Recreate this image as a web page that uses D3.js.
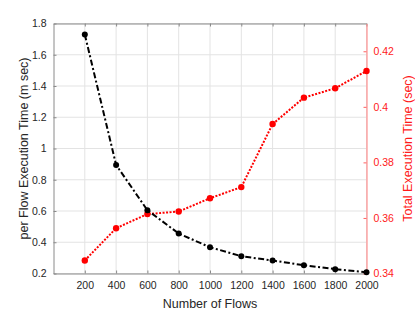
<!DOCTYPE html>
<html>
<head>
<meta charset="utf-8">
<script src="https://cdn.jsdelivr.net/npm/d3@7"></script>
<style>
  body { margin: 0; background: #fff; }
  text { font-family: Helvetica, Arial, "Liberation Sans", sans-serif; }
</style>
</head>
<body>
<div id="chart"></div>
<script>
const flows = [200, 400, 600, 800, 1000, 1200, 1400, 1600, 1800, 2000]
const perFlowTime = [1.73, 0.895, 0.605, 0.456, 0.368, 0.311, 0.283, 0.253, 0.228, 0.208]
const totalTime = [0.3447, 0.3563, 0.3614, 0.3623, 0.3671, 0.3711, 0.3938, 0.4033, 0.4067, 0.4129]
const leftTicks = [0.2, 0.4, 0.6, 0.8, 1, 1.2, 1.4, 1.6, 1.8]
const rightTicks = [0.34, 0.36, 0.38, 0.4, 0.42]

const W = 415, H = 312
const margin = { top: 23.5, left: 53.5, right: 48.5, bottom: 38.5 }
const width = W - margin.left - margin.right
const height = H - margin.top - margin.bottom

const canvas = d3.select('#chart').append('svg')
  .attr('width', W).attr('height', H)

const svg = canvas.append('g')
  .attr('transform', `translate(${margin.left},${margin.top})`)

const x = d3.scaleLinear().domain([0, 2000]).range([0, width])
const yL = d3.scaleLinear().domain([0.2, 1.8]).range([height, 0])
const yR = d3.scaleLinear().domain([0.34, 0.43]).range([height, 0])

const fmt = d => String(+d.toFixed(2))

// grid
svg.append('g').selectAll('line').data(flows).enter().append('line')
  .attr('x1', d => x(d)).attr('x2', d => x(d))
  .attr('y1', 0).attr('y2', height)
  .attr('stroke', '#e3e3e3').attr('stroke-width', 1)
svg.append('g').selectAll('line').data(leftTicks).enter().append('line')
  .attr('x1', 0).attr('x2', width)
  .attr('y1', d => yL(d)).attr('y2', d => yL(d))
  .attr('stroke', '#e3e3e3').attr('stroke-width', 1)

// axes
const xAxis = svg.append('g')
  .attr('transform', `translate(0,${height})`)
  .call(d3.axisBottom(x).tickValues(flows).tickFormat(d3.format('d'))
    .tickSizeInner(-3).tickSizeOuter(0).tickPadding(8))
const xTop = svg.append('g')
  .call(d3.axisTop(x).tickValues(flows).tickSizeInner(-3).tickSizeOuter(0).tickFormat(''))
const yAxisL = svg.append('g')
  .call(d3.axisLeft(yL).tickValues(leftTicks).tickFormat(fmt).tickSizeInner(-3).tickSizeOuter(0).tickPadding(7))
const yAxisR = svg.append('g')
  .attr('transform', `translate(${width},0)`)
  .call(d3.axisRight(yR).tickValues(rightTicks).tickFormat(fmt).tickSizeInner(-3).tickSizeOuter(0).tickPadding(7))

for (const ax of [xAxis, xTop, yAxisL]) {
  ax.select('.domain').attr('stroke', '#8a8a8a').attr('stroke-width', 1)
  ax.selectAll('.tick line').attr('stroke', '#8a8a8a')
  ax.selectAll('.tick text').attr('fill', '#262626').attr('font-size', 10.5)
}
yAxisR.select('.domain').attr('stroke', '#ff9090').attr('stroke-width', 1.2)
yAxisR.selectAll('.tick line').attr('stroke', '#ff6060')
yAxisR.selectAll('.tick text').attr('fill', '#ff1a1a').attr('font-size', 10.5)

// lines
const lineL = d3.line().x((d, i) => x(flows[i])).y(d => yL(d))
const lineR = d3.line().x((d, i) => x(flows[i])).y(d => yR(d))

svg.append('path').datum(totalTime)
  .attr('d', lineR).attr('fill', 'none')
  .attr('stroke', '#ff0000').attr('stroke-width', 2)
  .attr('stroke-dasharray', '2,1.5')
svg.append('g').selectAll('circle').data(totalTime).enter().append('circle')
  .attr('cx', (d, i) => x(flows[i])).attr('cy', d => yR(d))
  .attr('r', 3.2).attr('fill', '#ff0000')

svg.append('path').datum(perFlowTime)
  .attr('d', lineL).attr('fill', 'none')
  .attr('stroke', '#000').attr('stroke-width', 2)
  .attr('stroke-dasharray', '6,2.5,2,2.5')
svg.append('g').selectAll('circle').data(perFlowTime).enter().append('circle')
  .attr('cx', (d, i) => x(flows[i])).attr('cy', d => yL(d))
  .attr('r', 3).attr('fill', '#000')

// titles
canvas.append('text')
  .attr('x', margin.left + width / 2).attr('y', 308)
  .attr('text-anchor', 'middle').attr('font-size', 12.5).attr('fill', '#262626')
  .text('Number of Flows')
canvas.append('text')
  .attr('transform', `translate(28,${margin.top + height / 2}) rotate(-90)`)
  .attr('text-anchor', 'middle').attr('font-size', 12.5).attr('fill', '#262626')
  .text('per Flow Execution Time (m sec)')
canvas.append('text')
  .attr('transform', `translate(411.5,${margin.top + height / 2}) rotate(-90)`)
  .attr('text-anchor', 'middle').attr('font-size', 12.5).attr('fill', '#ff1a1a')
  .text('Total Execution Time (sec)')
</script>
</body>
</html>
